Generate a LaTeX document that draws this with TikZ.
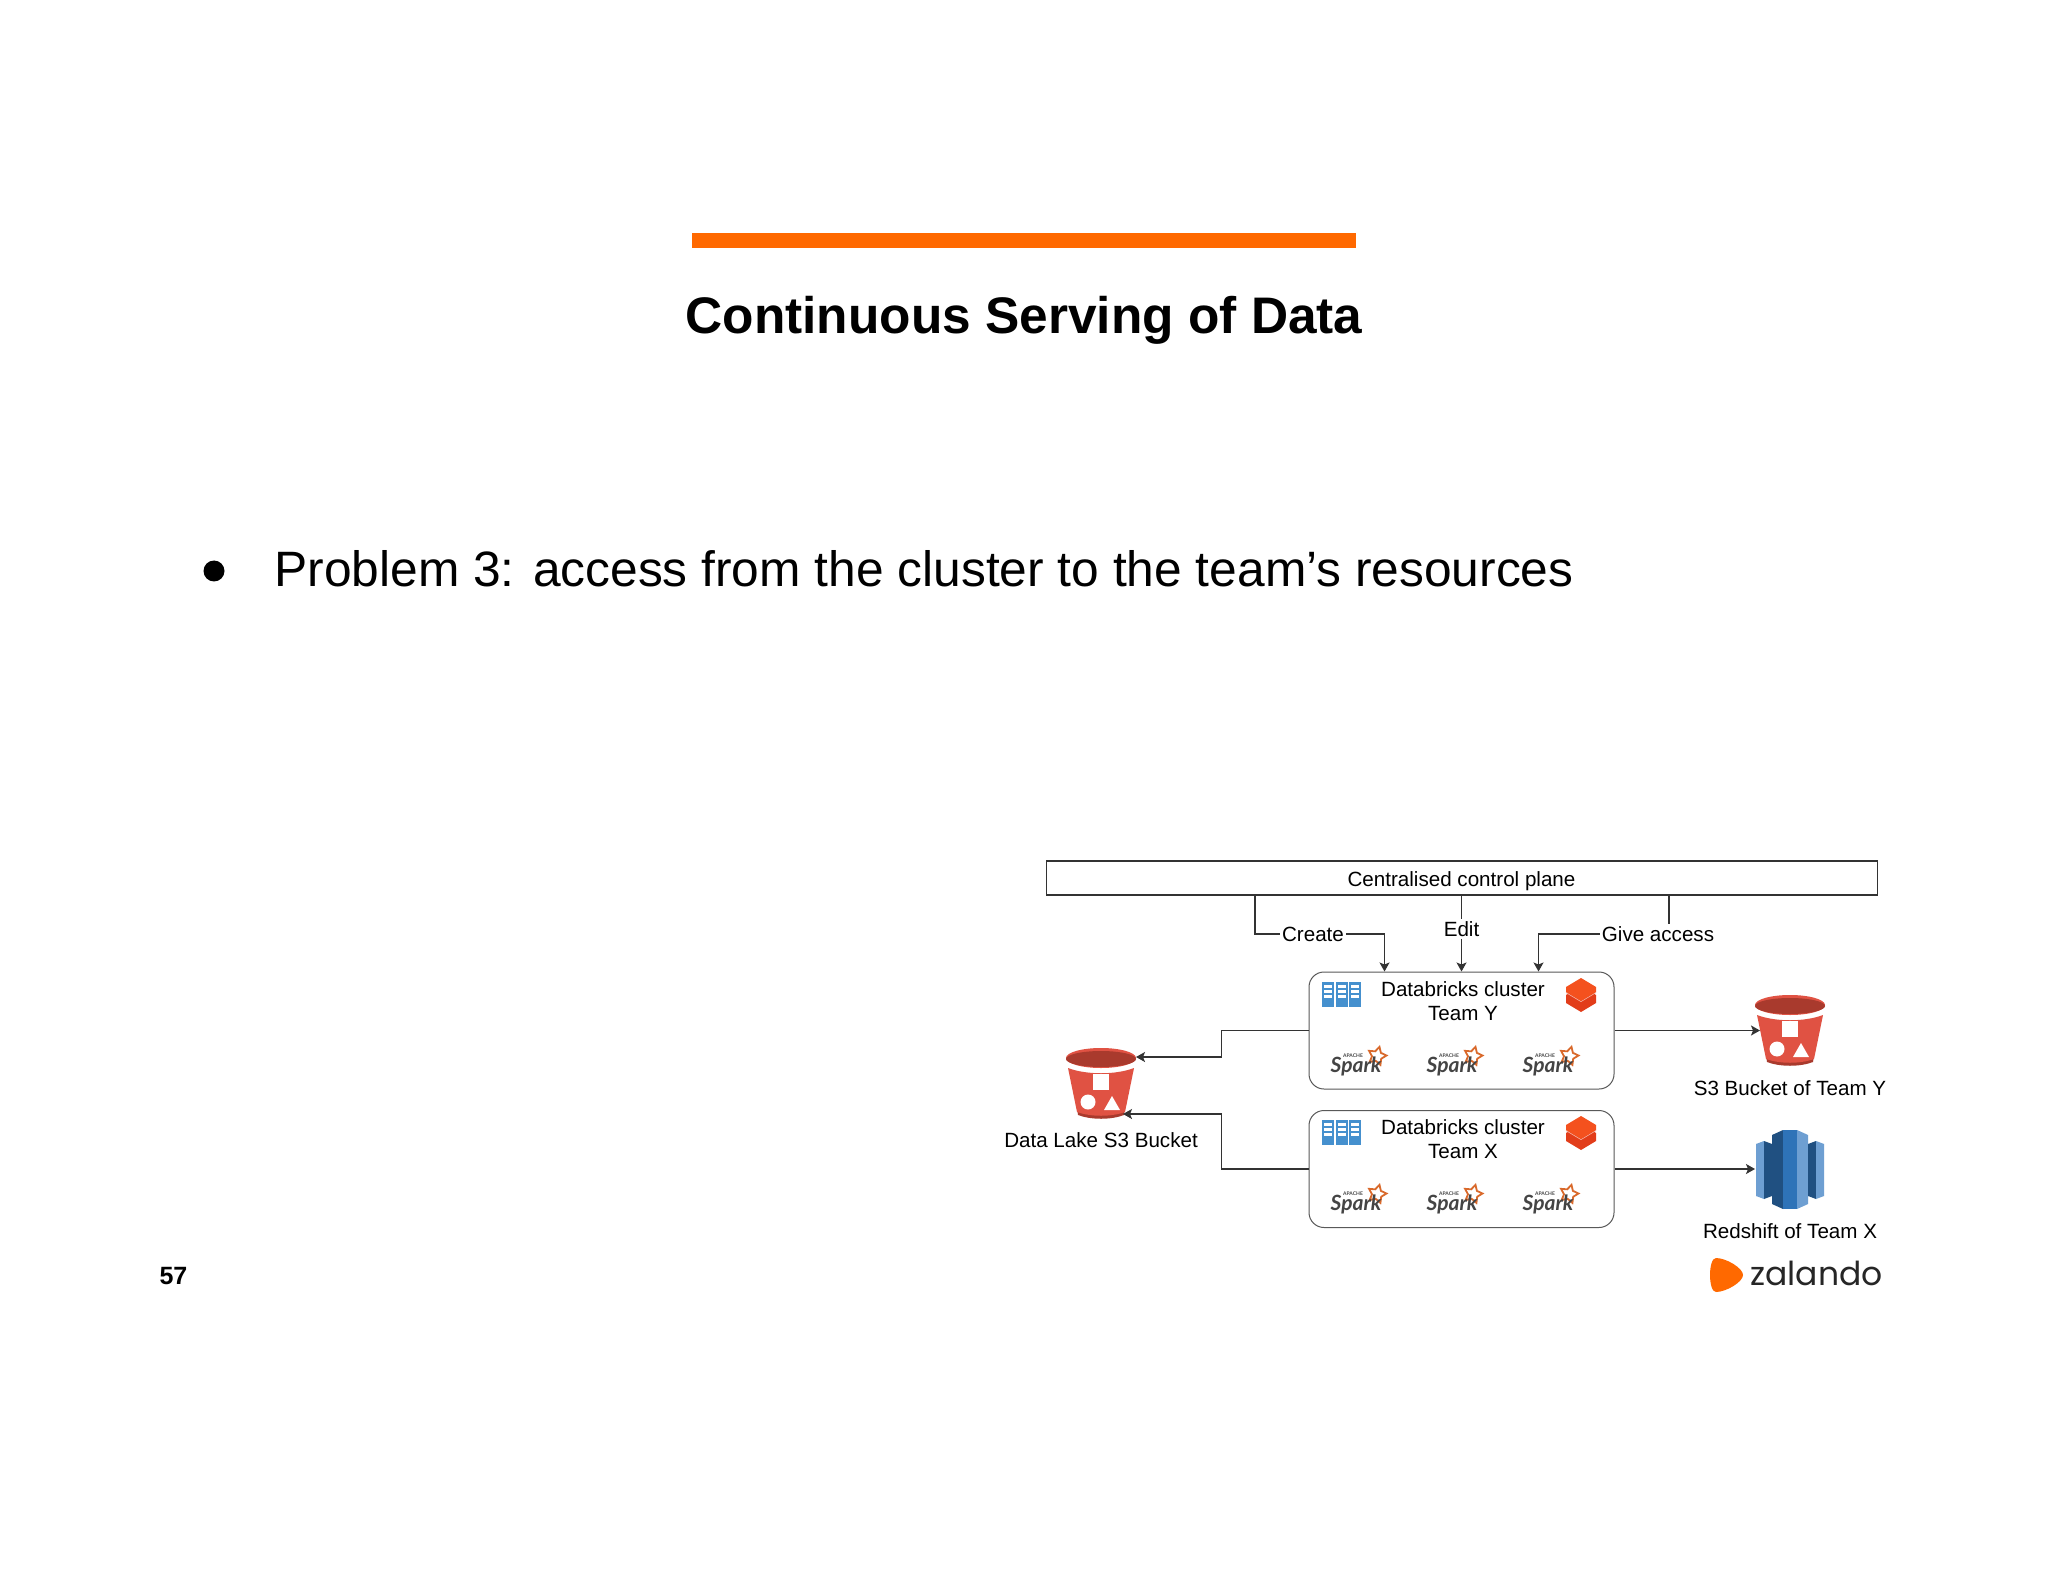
\documentclass[tikz,border=0pt]{standalone}
\usepackage{fontspec}
\setmainfont{Liberation Sans}
\newfontfamily\logofont{Poppins}
\newfontfamily\sparkfont{Lato}
\usetikzlibrary{shapes.geometric,calc,arrows.meta}
\definecolor{barorange}{HTML}{FF6900}
\definecolor{bucketred}{HTML}{E05243}
\definecolor{bucketdark}{HTML}{A93A2D}
\definecolor{serverblue}{HTML}{4590CE}
\definecolor{shiftlight}{HTML}{6E9FD2}
\definecolor{shiftdark}{HTML}{205081}
\definecolor{shiftmid}{HTML}{2E73B8}
\definecolor{sparkstar}{HTML}{D9692B}
\definecolor{sparkgrey}{HTML}{444444}
\definecolor{brickup}{HTML}{F4511E}
\definecolor{bricklow}{HTML}{E23D1A}
\tikzset{
  txt/.style={font=\fontsize{10.3}{12}\selectfont,inner sep=1pt},
  cluster/.style={draw=black!65,line width=.5pt,rounded corners=7.5pt,minimum width=152.5pt,minimum height=58.5pt,inner sep=0pt},
  line/.style={draw=black!80,line width=.6pt},
  bucket/.pic={
    \fill[bucketdark] (-24,50) -- (24,50) -- (23,57) .. controls (10,62) and (-10,62) .. (-23,57) -- cycle;
    \fill[bucketred] (-33,10) .. controls (-15,17) and (15,17) .. (33,10) -- (24,54) .. controls (10,59) and (-10,59) .. (-24,54) -- cycle;
    \fill[bucketred] (0,0) ellipse (35 and 10);
    \fill[bucketdark] (0,1) ellipse (35 and 8);
    \fill[white] (-8,16) rectangle (8,32);
    \fill[white] (-13,44) circle (7.5);
    \fill[white] (11,38) -- (19,52) -- (3,52) -- cycle;
  },
  sparklogo/.pic={
    \node[star,star points=5,star point ratio=1.9,draw=sparkstar,line width=.9pt,minimum size=9.5pt,inner sep=0pt,rotate=-15] at (19,-4) {};
    \node[font=\sparkfont\itshape\bfseries\fontsize{10.5}{12}\selectfont,text=sparkgrey,inner sep=0pt] at (-2,6) {Spark};
    \node[font=\sparkfont\bfseries\fontsize{2.5}{3}\selectfont,text=sparkgrey,inner sep=0pt] at (-5,-4) {APACHE};
  },
  servers/.pic={
    \foreach \x in {0,13.5,27} {
      \fill[serverblue] (\x,0) rectangle ++(12,25);
      \foreach \y in {3,8,13} \fill[white] (\x+2,\y) rectangle ++(8,2.5);
    }
  },
  bricks/.pic={
    \fill[bricklow] (0,8) -- (15,17) -- (15,25) -- (0,34) -- (-15,25) -- (-15,17) -- cycle;
    \draw[white!60!bricklow,line width=.4pt] (-15,14.5) -- (0,23.5) -- (15,14.5);
    \fill[brickup] (0,0) -- (15,9) -- (15,14) -- (0,23) -- (-15,14) -- (-15,9) -- cycle;
  },
}
\begin{document}
\begin{tikzpicture}[>={Stealth[length=4.5pt,width=5pt,inset=1pt]},x=.5pt,y=-.5pt]
\useasboundingbox (0,0) rectangle (2048,1582);
\fill[white] (0,0) rectangle (2048,1582);
\fill[barorange] (692,233) rectangle (1356,248);
\node (title) at (1024,320) {\fontsize{25.7}{32}\selectfont\bfseries Continuous Serving of Data};
\node[circle,fill=black,minimum size=10.5pt,inner sep=0pt] (dot) at (214,571) {};
\node[anchor=west,inner sep=0pt] (problem) at (274,569) {\fontsize{24.85}{30}\selectfont Problem 3: access from the cluster to the team’s resources};
\node[font=\fontsize{12.5}{15}\selectfont\bfseries,inner sep=0pt] (page) at (173.5,1276) {57};

\node[draw=black!80,line width=.6pt,minimum width=415.5pt,minimum height=17pt,inner sep=0pt] (plane) at (1462,878) {};
\node[txt] (planetext) at (1461.5,881) {Centralised control plane};
\node[cluster] (teamY) at (1461.5,1030.5) {};
\node[cluster] (teamX) at (1461.5,1169) {};

\foreach \team/\ytop in {Y/972,X/1110}
{
   \node[txt,align=center] (text\team) at (1463,\ytop+29) {Databricks cluster\\Team \team};
   \pic at (1322,\ytop+10) {servers};
   \pic at (1581,\ytop+6) {bricks};
   \foreach \x in {1358,1454,1550}
   \pic at (\x,\ytop+88) {sparklogo};
}

\pic at (1790,1005) {bucket};
\pic at (1101,1058) {bucket};
\node[txt] (s3y) at (1790,1088) {S3 Bucket of Team Y};
\node[txt] (lake) at (1101,1140) {Data Lake S3 Bucket};
\node[txt] (redshift) at (1790,1231) {Redshift of Team X};

% redshift towers
\fill[shiftlight] (1756,1144) -- (1764,1141) -- (1764,1199) -- (1756,1196) -- cycle;
\fill[shiftdark] (1764,1141) -- (1772,1144) -- (1772,1196) -- (1764,1199) -- cycle;
\fill[shiftdark] (1772,1135) -- (1783,1130) -- (1783,1209) -- (1772,1204) -- cycle;
\fill[shiftmid] (1783,1130) -- (1797,1130) -- (1797,1209) -- (1783,1209) -- cycle;
\fill[shiftlight] (1797,1130) -- (1808,1135) -- (1808,1204) -- (1797,1209) -- cycle;
\fill[shiftdark] (1808,1144) -- (1816,1141) -- (1816,1199) -- (1808,1196) -- cycle;
\fill[shiftlight] (1816,1141) -- (1824,1144) -- (1824,1196) -- (1816,1199) -- cycle;

\fill[barorange] (1716,1258) .. controls (1726,1258) and (1743,1268) .. (1743,1275) .. controls (1743,1282) and (1726,1292) .. (1716,1292) .. controls (1708,1292) and (1708,1258) .. (1716,1258) -- cycle;
\node[anchor=west,inner sep=0pt,text=black!85] (zalando) at (1750,1273) {\logofont\fontsize{16.5}{20}\selectfont zalando};

\coordinate (lakeY) at (1136,1057);
\coordinate (lakeX) at (1123,1114);
\coordinate (bucketY) at (1760,1030.5);
\coordinate (shiftX) at (1755,1169);

\node[txt,fill=white] (create) at (1313,934) {Create};
\node[txt,fill=white] (edit) at (1461.5,929) {Edit};
\node[txt,fill=white] (give) at (1658,934) {Give access};
\coordinate (giveup) at ($(plane.south)+(207,0)$);

\draw[line] ($(plane.south)+(-207,0)$) |- (create);
\draw[line,->] (create) -| ($(teamY.north)+(-77,0)$);
\draw[line] (edit |- plane.south) -- (edit);
\draw[line,->] (edit) -- (teamY.north);
\draw[line] (giveup) -- (giveup |- give.north);
\draw[line,->] (give) -| ($(teamY.north)+(77,0)$);

\draw[line,->] (teamY.west) -- ++(-87,0) |- (lakeY);
\draw[line,->] (teamX.west) -- ++(-87,0) |- (lakeX);
\draw[line,->] (teamY.east) -- (bucketY);
\draw[line,->] (teamX.east) -- (shiftX);
\end{tikzpicture}
\end{document}
